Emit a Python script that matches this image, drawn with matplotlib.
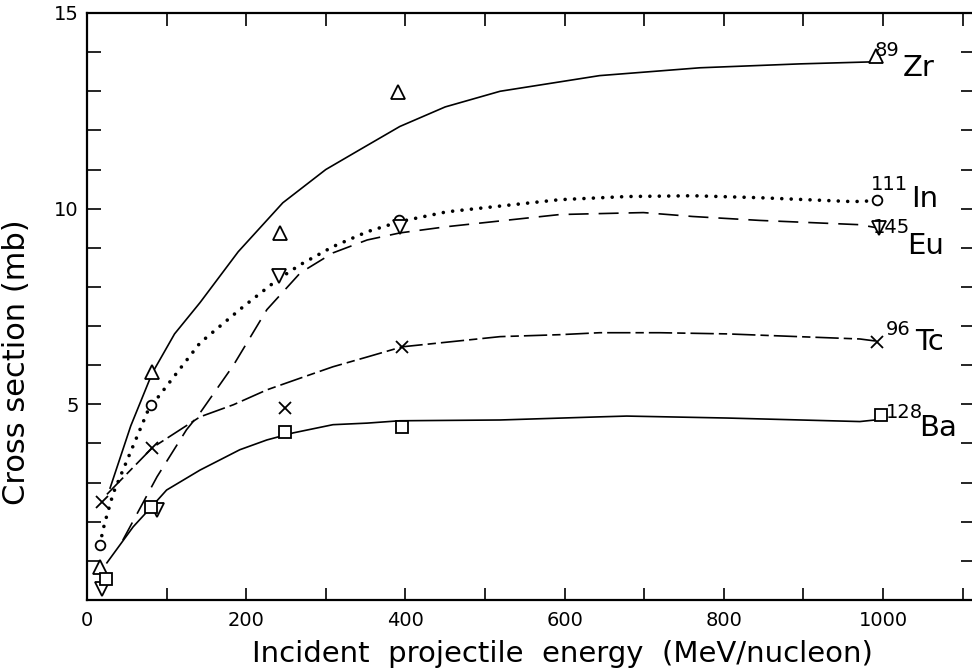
import numpy as np
import matplotlib.pyplot as plt
from matplotlib.ticker import MultipleLocator, FuncFormatter

# measured points (energy in MeV/nucleon, cross section in mb)
zr_e = [16, 82, 242, 391, 991]
zr_s = [0.85, 5.83, 9.39, 12.97, 13.9]
in_e = [16, 81, 392, 992]
in_s = [1.41, 4.99, 9.72, 10.23]
eu_e = [19, 88, 241, 393, 995]
eu_s = [0.28, 2.3, 8.29, 9.54, 9.51]
tc_e = [19, 82, 249, 396, 993]
tc_s = [2.5, 3.89, 4.91, 6.47, 6.6]
ba_e = [24, 81, 249, 396, 997]
ba_s = [0.54, 2.38, 4.3, 4.42, 4.73]

# hand drawn curves
zr_ce = [29, 55, 82, 110, 142, 190, 246, 300, 343, 393, 450, 519, 644, 770, 896, 984]
zr_cs = [2.86, 4.45, 5.8, 6.8, 7.6, 8.9, 10.15, 11.0, 11.51, 12.1, 12.6, 13.0, 13.4, 13.6, 13.7, 13.75]
in_ce = [16, 22, 33, 77, 142, 196, 239, 268, 309, 352, 393, 452, 594, 678, 761, 845, 962, 988]
in_cs = [1.41, 1.95, 2.73, 4.86, 6.57, 7.49, 8.18, 8.57, 9.03, 9.41, 9.67, 9.92, 10.23, 10.31, 10.33, 10.28, 10.18, 10.2]
eu_ce = [45, 88, 125, 142, 184, 226, 268, 309, 352, 393, 452, 594, 699, 761, 845, 971, 990]
eu_cs = [1.53, 3.15, 4.35, 4.78, 6.0, 7.42, 8.36, 8.87, 9.2, 9.38, 9.54, 9.85, 9.9, 9.8, 9.7, 9.59, 9.52]
tc_ce = [25, 82, 142, 184, 226, 268, 309, 352, 396, 519, 594, 644, 720, 804, 971, 990]
tc_cs = [2.7, 3.89, 4.68, 4.99, 5.37, 5.67, 5.96, 6.21, 6.47, 6.73, 6.78, 6.83, 6.83, 6.8, 6.67, 6.62]
ba_ce = [25, 58, 81, 100, 142, 192, 226, 259, 309, 352, 393, 519, 644, 678, 804, 971, 990]
ba_cs = [0.95, 1.87, 2.38, 2.81, 3.32, 3.84, 4.09, 4.27, 4.48, 4.52, 4.58, 4.6, 4.68, 4.7, 4.65, 4.56, 4.6]

# labels: (mass number, element, energy, cross section of the element text, mass x, mass y)
labels = [("89", "Zr", 1025, 13.6, 1021, 14.05),
          ("111", "In", 1035, 10.25, 1031, 10.62),
          ("145", "Eu", 1030, 9.05, 1034, 9.52),
          ("96", "Tc", 1040, 6.6, 1034, 6.9),
          ("128", "Ba", 1046, 4.4, 1050, 4.8)]

plt.rcParams['font.family'] = 'DejaVu Sans'

fig = plt.figure(figsize=(9.72, 6.71), dpi=100)
ax = fig.add_axes([87 / 972, 71 / 671, 887.5 / 972, 587 / 671])

k = 'black'
ax.plot(zr_ce, zr_cs, color=k, lw=1.2)
ax.plot(in_ce, in_cs, color=k, lw=2.6, linestyle=(0, (0.01, 2.6)), dash_capstyle='round')
ax.plot(eu_ce, eu_cs, color=k, lw=1.2, linestyle=(0, (12, 6)))
ax.plot(tc_ce, tc_cs, color=k, lw=1.2, linestyle=(0, (14, 3, 5, 3)))
ax.plot(ba_ce, ba_cs, color=k, lw=1.2)

mk = dict(color=k, linestyle='none', markerfacecolor='white', markeredgewidth=1.3)
ax.plot(zr_e, zr_s, marker='^', markersize=10, **mk)
ax.plot(in_e, in_s, marker='o', markersize=7, **mk)
ax.plot(eu_e, eu_s, marker='v', markersize=10, **mk)
ax.plot(tc_e, tc_s, marker='x', markersize=9, **mk)
ax.plot(ba_e, ba_s, marker='s', markersize=8.5, **mk)

for mass, elem, e, s, me, ms in labels:
    ax.text(e, s, elem, fontsize=21, ha='left', va='center')
    ax.text(me, ms, mass, fontsize=14, ha='right', va='center')

ax.set_xlim(0, 1115)
ax.set_ylim(0, 15)

ax.xaxis.set_major_locator(MultipleLocator(100))
ax.xaxis.set_major_formatter(FuncFormatter(lambda v, p: f"{int(v)}" if int(round(v)) % 200 == 0 and v <= 1000 else ""))
ax.yaxis.set_major_locator(MultipleLocator(5))
ax.yaxis.set_minor_locator(MultipleLocator(1))
ax.yaxis.set_major_formatter(FuncFormatter(lambda v, p: "" if v == 0 else f"{int(v)}"))

ax.tick_params(axis='x', which='major', direction='in', length=9, width=1.2,
               top=True, labelsize=14, pad=8)
ax.tick_params(axis='y', which='both', direction='in', length=10, width=1.2,
               right=True, labelsize=14, pad=6)

for sp in ax.spines.values():
    sp.set_linewidth(1.6)

ax.set_xlabel("Incident  projectile  energy  (MeV/nucleon)", fontsize=21)
ax.xaxis.set_label_coords(0.536, -0.068)
ax.set_ylabel("Cross section (mb)", fontsize=22)
ax.yaxis.set_label_coords(-0.063, 0.405)

fig.savefig("out.png", dpi=100)
